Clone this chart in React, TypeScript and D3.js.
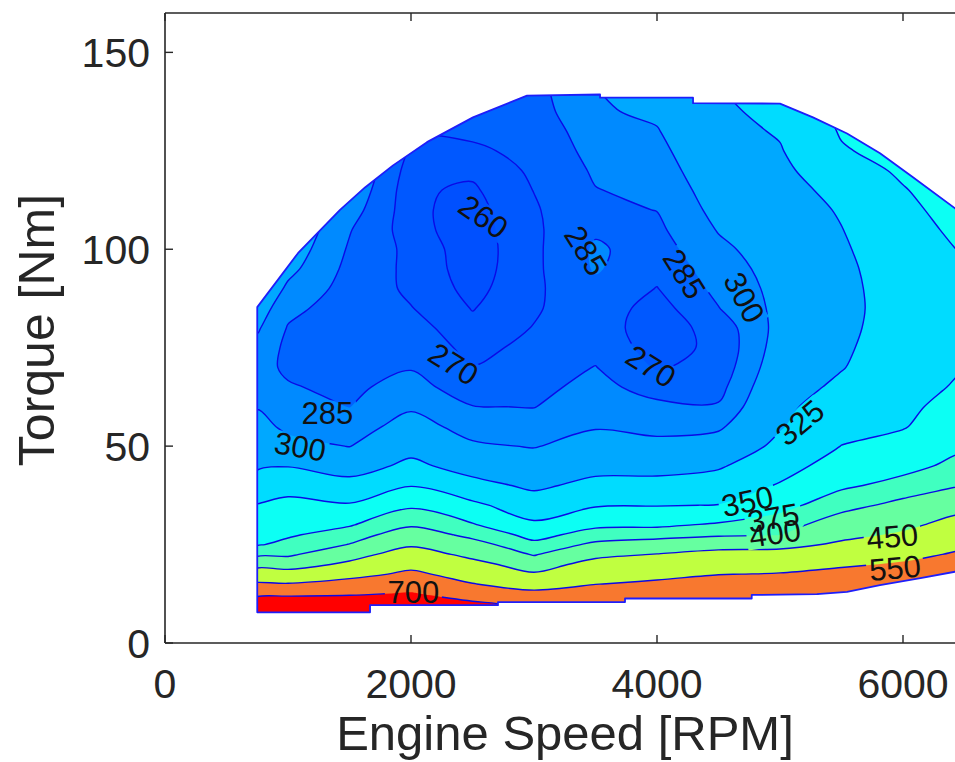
import React from "react";
import * as d3 from "d3";

// ---------- data ----------
const speeds = [750, 1000, 1500, 2000, 2500, 3000, 3500, 4000, 4500, 5000, 5500, 6000, 6500];
const torques = [5, 7.5, 10, 12.5, 15, 17.5, 20, 22.5, 25, 27.5, 30, 35, 40, 45, 50, 55, 60, 65, 70, 75, 80, 85, 90, 95, 100, 105, 110, 115, 120, 125, 130, 135, 140, 145];

// BSFC [g/kWh] per engine-speed column, one value per torque row
const bsfc750 = [980, 885, 777, 670, 562, 485, 429, 393, 373, 368, 362, 351, 336, 322, 314, 306, 299, 294, 289, 295, 302, 309, 316, 320, 324, 327, 330, 333, 336, 339, 342, 345, 348, 351];
const bsfc1000 = [1000, 906, 789, 672, 555, 475, 423, 394, 381, 372, 366, 356, 342, 324, 306, 296, 291, 286, 283, 281.5, 284, 289, 297, 304.5, 310, 315, 319, 322, 325, 328, 331, 334, 337, 340];
const bsfc1500 = [1000, 877, 781, 685, 589, 517, 461, 428, 401, 386, 373, 352, 333, 315, 299.5, 292, 284.7, 282, 279.5, 277.5, 277, 277.5, 279, 281, 283.3, 286, 292, 298, 303, 307, 311, 315, 318, 321];
const bsfc2000 = [960, 853, 782, 711, 641, 570, 520, 478, 442, 417, 396, 371, 349, 330, 317.5, 307, 297.7, 290.5, 284, 279, 274.5, 270.5, 267.5, 266.5, 266, 263, 262, 261.5, 263.5, 267.5, 271, 274, 277, 280];
const bsfc2500 = [900, 802, 720, 637, 553, 509, 467, 435, 411, 392, 377, 355, 332, 316, 302.6, 293.3, 285.5, 277, 270.5, 266, 263, 259.5, 257, 255.5, 255, 255.5, 256.5, 258.5, 262, 267.5, 273, 277, 280, 283];
const bsfc3000 = [780, 720, 670, 575, 508, 456, 424, 397, 381, 367, 354, 336, 321, 310, 299, 291.6, 284.6, 281, 277.3, 273.7, 270.5, 268.5, 267.5, 267, 267, 267.5, 268.5, 270.3, 272, 274, 276, 278, 280, 282];
const bsfc3500 = [720, 680, 635, 592, 548, 509, 470, 436, 406, 385, 370, 348, 331, 318, 307.5, 298.6, 294, 289.5, 285.5, 280, 277.5, 278.5, 281, 286.5, 287, 283, 282, 284.5, 287, 290, 293, 298, 299.5, 302];
const bsfc4000 = [700, 665, 625, 595, 565, 527, 489, 452, 416, 388, 371, 349, 332, 317.6, 304.5, 295.4, 288.5, 279, 268.5, 264, 262, 264, 269.5, 274.5, 278.5, 282, 285.3, 288.5, 292, 295.5, 299, 303, 307, 311];
const bsfc4500 = [720, 690, 660, 630, 595, 547, 508, 469, 428, 395, 378, 350.5, 336, 322.4, 309.2, 297, 286.5, 280, 275.5, 273.5, 276, 284.5, 289, 292.5, 296.5, 301, 305, 308.5, 312, 315, 318, 321, 324, 327];
const bsfc5000 = [690, 680, 670, 630, 590, 555, 513, 472, 432, 399, 387, 367, 352, 340.6, 330.2, 323.3, 320, 316, 311.5, 308, 305.5, 304.5, 305, 306.5, 308.5, 311, 314, 317.5, 320.5, 323.5, 327, 331, 335, 339];
const bsfc5500 = [720, 700, 690, 660, 620, 580, 535, 497, 459, 436, 418, 389, 371, 360.4, 350.4, 343, 336, 329, 324, 322, 320.5, 320, 320.3, 321, 322.5, 324.5, 327, 331, 338, 348, 352, 355, 358, 361];
const bsfc6000 = [800, 770, 740, 699, 650, 600, 560, 523, 490, 457, 438, 409, 382.5, 368, 358, 348.5, 345, 341, 338, 335.5, 334, 333, 333.5, 335, 337.5, 341, 344.5, 348.5, 354, 358, 362, 366, 370, 374];
const bsfc6500 = [840, 800, 770, 735, 695, 650, 610, 565, 530, 501, 473, 431, 400.5, 382, 371.4, 365.5, 359.5, 353.6, 349, 345, 342, 341, 343, 347.5, 352, 356, 360, 364, 368, 372, 376, 380, 384, 388];
const bsfcColumns = [bsfc750, bsfc1000, bsfc1500, bsfc2000, bsfc2500, bsfc3000, bsfc3500, bsfc4000, bsfc4500, bsfc5000, bsfc5500, bsfc6000, bsfc6500];

const levels = [260, 270, 285, 300, 325, 350, 375, 400, 450, 550, 700];
const bandColors = ["#0050ff", "#0058ff", "#0064ff", "#008aff", "#00a8ff", "#00dcff", "#0cfff4", "#40ffc0", "#66ffa0", "#c0ff40", "#f8782f", "#ff0000"];

// operating envelope
const maxTorqueSpeed = [750, 1081, 1423, 1626, 1854, 2130, 2504, 2943, 3537, 3537, 4293, 4293, 5000, 5268, 5545, 5813, 6081, 6423, 6500];
const maxTorque = [85.3, 99, 110, 115.7, 121.3, 127.2, 133.5, 139, 139.3, 138.5, 138.5, 137.1, 137, 133.5, 129.4, 124.4, 118.3, 110.4, 108.5];
const minTorqueSpeed = [750, 1667, 1667, 2707, 2707, 3740, 3740, 4770, 4770, 5300, 5545, 5813, 6142, 6423, 6500];
const minTorque = [7.8, 7.8, 9.6, 9.6, 10.4, 10.4, 11.3, 11.3, 12.2, 12.4, 13, 14.7, 16.5, 18.1, 18.5];

// contour labels
const labelLevels = [260, 285, 285, 300, 270, 270, 285, 300, 325, 350, 375, 400, 450, 550, 700];
const labelSpeeds = [2588, 3420, 4220, 4707, 2344, 3949, 1320, 1098, 5163, 4734, 4946, 4959, 5913, 5935, 2019];
const labelTorques = [108.2, 99.6, 93.7, 87.7, 70.8, 70.2, 58.3, 49.8, 55.9, 35.9, 31.7, 27.8, 27, 19, 12.9];
const labelAngles = [35, 58, 58, 62, 32, 32, 0, 10, -40, -12, -10, -8, -5, -5, 0];

const xTicks = [0, 2000, 4000, 6000];
const yTicks = [0, 50, 100, 150];

function interpIndex(arr: number[], s: number): number {
  const n = arr.length;
  if (s <= 0) return arr[0] + s * (arr[1] - arr[0]);
  if (s >= n - 1) return arr[n - 1] + (s - (n - 1)) * (arr[n - 1] - arr[n - 2]);
  const i = Math.floor(s);
  const f = s - i;
  return arr[i] + f * (arr[i + 1] - arr[i]);
}

const FONT = "'Liberation Sans', Arial, Helvetica, sans-serif";

export default function App() {
  const W = 955;
  const H = 762;
  const x = d3.scaleLinear().domain([0, 6500]).range([165, 964.5]);
  const y = d3.scaleLinear().domain([0, 160]).range([643, 13]);

  const nx = speeds.length;
  const ny = torques.length;
  const values: number[] = new Array(nx * ny);
  for (let j = 0; j < ny; j++) {
    for (let i = 0; i < nx; i++) values[j * nx + i] = bsfcColumns[i][j];
  }
  const contours = d3.contours().size([nx, ny]).thresholds(levels)(values);

  const ringLine = d3
    .line<[number, number]>()
    .x((d) => d[0])
    .y((d) => d[1])
    .curve(d3.curveCatmullRomClosed.alpha(0.5));

  const toPath = (geom: any) =>
    geom.coordinates
      .map((poly: number[][][]) =>
        poly
          .map((ring: number[][]) => {
            let pts: [number, number][] = ring.map(([cx, cy]) => {
              const sp = interpIndex(speeds, cx - 0.5);
              const tq = interpIndex(torques, cy - 0.5);
              return [x(sp), y(tq)] as [number, number];
            });
            const f = pts[0];
            const l = pts[pts.length - 1];
            if (pts.length > 1 && Math.abs(f[0] - l[0]) < 1e-6 && Math.abs(f[1] - l[1]) < 1e-6) pts = pts.slice(0, -1);
            pts = pts.filter((p, i) => i === 0 || Math.hypot(p[0] - pts[i - 1][0], p[1] - pts[i - 1][1]) > 1e-6);
            return ringLine(pts) || "";
          })
          .join("")
      )
      .join("");

  const envPts: [number, number][] = [];
  maxTorqueSpeed.forEach((s, i) => envPts.push([x(s), y(maxTorque[i])]));
  for (let i = minTorqueSpeed.length - 1; i >= 0; i--) envPts.push([x(minTorqueSpeed[i]), y(minTorque[i])]);
  const envPath = "M" + envPts.map((p) => `${p[0].toFixed(2)},${p[1].toFixed(2)}`).join("L") + "Z";

  const labelFont = 31;
  const labels = labelLevels.map((lv, i) => ({
    text: String(lv),
    px: x(labelSpeeds[i]),
    py: y(labelTorques[i]),
    angle: labelAngles[i],
  }));

  const axisColor = "#262626";
  const paths = contours.map((c) => toPath(c));

  return (
    <svg
      width={W}
      height={H}
      viewBox={`0 0 ${W} ${H}`}
      style={{ position: "absolute", left: 0, top: 0, display: "block", background: "#ffffff" }}
    >
      <defs>
        <clipPath id="envClip">
          <path d={envPath} />
        </clipPath>
        <mask id="labelMask" maskUnits="userSpaceOnUse" x={0} y={0} width={W} height={H}>
          <rect x={0} y={0} width={W} height={H} fill="white" />
          {labels.map((l, i) => (
            <rect
              key={i}
              x={-labelFont * 0.92}
              y={-labelFont * 0.42}
              width={labelFont * 1.84}
              height={labelFont * 0.84}
              fill="black"
              transform={`translate(${l.px},${l.py}) rotate(${l.angle})`}
            />
          ))}
        </mask>
      </defs>

      <g clipPath="url(#envClip)">
        <path d={envPath} fill={bandColors[0]} />
        {paths.map((p, k) => (
          <path key={`f${k}`} d={p} fill={bandColors[k + 1]} fillRule="evenodd" stroke="none" />
        ))}
        <g mask="url(#labelMask)">
          {paths.map((p, k) => (
            <path key={`l${k}`} d={p} fill="none" stroke="#0a0ae6" strokeWidth={1.4} strokeLinejoin="round" />
          ))}
        </g>
      </g>
      <path d={envPath} fill="none" stroke="#1e1efa" strokeWidth={1.8} strokeLinejoin="round" />

      {labels.map((l, i) => (
        <text
          key={`t${i}`}
          transform={`translate(${l.px},${l.py}) rotate(${l.angle})`}
          textAnchor="middle"
          dominantBaseline="central"
          fontFamily={FONT}
          fontSize={labelFont}
          fill="#111111"
        >
          {l.text}
        </text>
      ))}

      {/* axes box */}
      <line x1={x(0)} x2={W} y1={y(0)} y2={y(0)} stroke={axisColor} strokeWidth={1.6} />
      <line x1={x(0)} x2={W} y1={y(160)} y2={y(160)} stroke={axisColor} strokeWidth={1.6} />
      <line x1={x(0)} x2={x(0)} y1={y(0)} y2={y(160)} stroke={axisColor} strokeWidth={1.6} />

      {xTicks.map((t) => (
        <g key={`xt${t}`}>
          <line x1={x(t)} x2={x(t)} y1={y(0)} y2={y(0) - 8} stroke={axisColor} strokeWidth={1.4} />
          <line x1={x(t)} x2={x(t)} y1={y(160)} y2={y(160) + 8} stroke={axisColor} strokeWidth={1.4} />
          <text x={x(t)} y={698} textAnchor="middle" fontFamily={FONT} fontSize={41} fill={axisColor}>
            {t}
          </text>
        </g>
      ))}
      {yTicks.map((t) => (
        <g key={`yt${t}`}>
          <line x1={x(0)} x2={x(0) + 8} y1={y(t)} y2={y(t)} stroke={axisColor} strokeWidth={1.4} />
          <text x={150} y={y(t)} dy="0.36em" textAnchor="end" fontFamily={FONT} fontSize={41} fill={axisColor}>
            {t}
          </text>
        </g>
      ))}

      <text x={565} y={750} textAnchor="middle" fontFamily={FONT} fontSize={49} fill={axisColor}>
        Engine Speed [RPM]
      </text>
      <text
        transform={`translate(54,330) rotate(-90)`}
        textAnchor="middle"
        fontFamily={FONT}
        fontSize={50}
        fill={axisColor}
      >
        Torque [Nm]
      </text>
    </svg>
  );
}
